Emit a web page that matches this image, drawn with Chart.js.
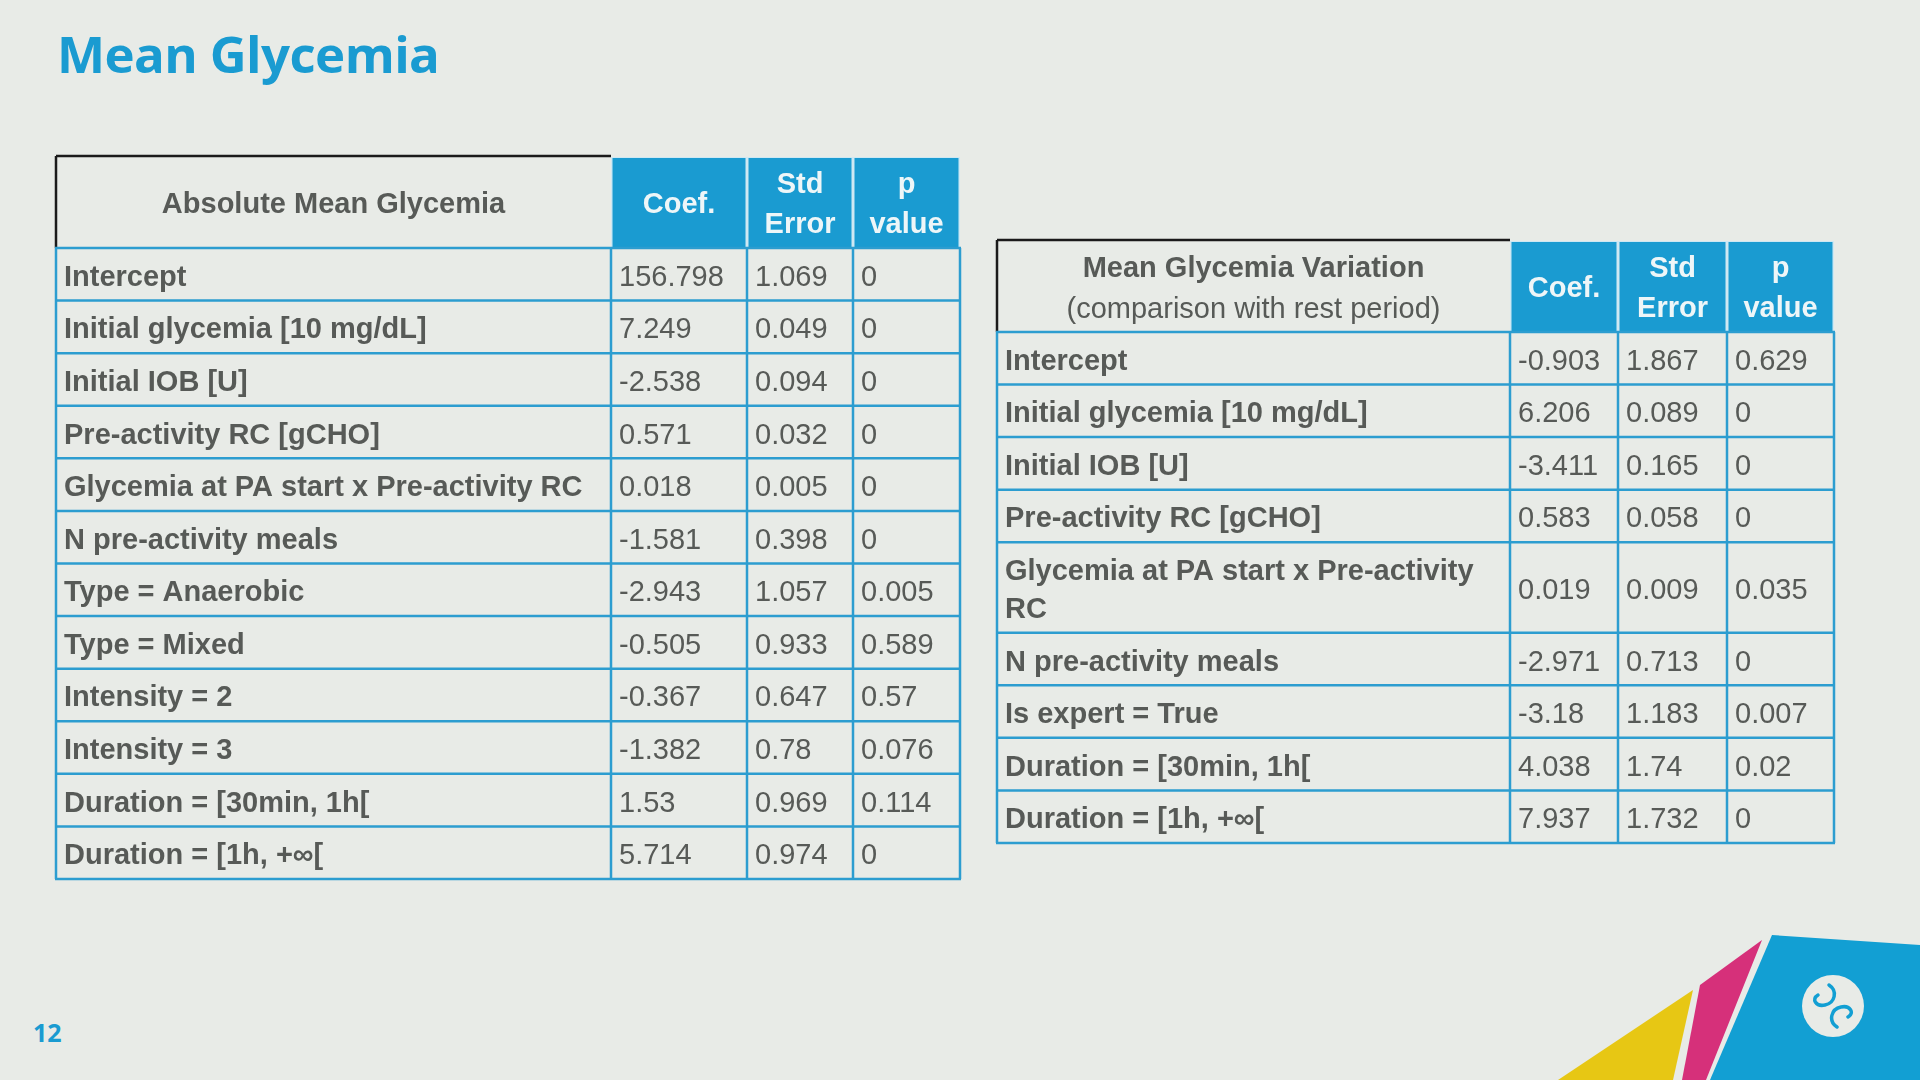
<!DOCTYPE html>
<html>
<head>
<meta charset="utf-8">
<title>Mean Glycemia</title>
<script src="https://cdn.jsdelivr.net/npm/chart.js@4.4.0/dist/chart.umd.min.js"></script>
<style>
  html, body { margin: 0; padding: 0; }
  body {
    width: 1920px; height: 1080px; position: relative; overflow: hidden;
    background: #e8ebe7; font-family: "Liberation Sans", Arial, sans-serif;
  }
  h1 {
    position: absolute; left: 57px; top: 18px; margin: 0;
    font-family: "Open Sans", sans-serif; font-weight: 700; font-size: 51px;
    color: #1a9bd1; letter-spacing: -0.6px;
  }
  .page-num {
    position: absolute; left: 33px; top: 1015px;
    font-family: "Open Sans", sans-serif; font-weight: 700; font-size: 25px; color: #1a9bd1;
  }
  canvas { position: absolute; }
  svg.deco { position: absolute; left: 0; top: 0; }
</style>
</head>
<body>
<h1>Mean Glycemia</h1>
<canvas id="absChart"></canvas>
<canvas id="varChart"></canvas>
<div class="page-num">12</div>

<svg class="deco" width="1920" height="1080">
  <polygon points="1693,990 1673,1080 1558,1080" fill="#e7c714"/>
  <polygon points="1700,985 1762,940 1706,1080 1682,1080" fill="#d6307a"/>
  <polygon points="1772,935 1920,945 1920,1080 1710,1080" fill="#129fd3"/>
  <circle cx="1833" cy="1006" r="31" fill="#e8ebe7"/>
  <path d="M1829,985 C1838,991 1835,1003 1825,1005 C1816,1007 1811,999 1818,995"
        fill="none" stroke="#129fd3" stroke-width="3.5" stroke-linecap="round"/>
  <path d="M1837,1027 C1828,1021 1831,1009 1841,1007 C1850,1005 1855,1013 1848,1017"
        fill="none" stroke="#129fd3" stroke-width="3.5" stroke-linecap="round"/>
</svg>

<script>
// column headers shared by both tables
const colHeaders = [["Coef."], ["Std", "Error"], ["p", "value"]];

// Absolute Mean Glycemia
const absTitle = ["Absolute Mean Glycemia"];
const absTerms = [
  "Intercept",
  "Initial glycemia [10 mg/dL]",
  "Initial IOB [U]",
  "Pre-activity RC [gCHO]",
  "Glycemia at PA start x Pre-activity RC",
  "N pre-activity meals",
  "Type = Anaerobic",
  "Type = Mixed",
  "Intensity = 2",
  "Intensity = 3",
  "Duration = [30min, 1h[",
  "Duration = [1h, +\u221e["
];
const absCoef   = [156.798, 7.249, -2.538, 0.571, 0.018, -1.581, -2.943, -0.505, -0.367, -1.382, 1.53, 5.714];
const absStdErr = [1.069, 0.049, 0.094, 0.032, 0.005, 0.398, 1.057, 0.933, 0.647, 0.78, 0.969, 0.974];
const absPValue = [0, 0, 0, 0, 0, 0, 0.005, 0.589, 0.57, 0.076, 0.114, 0];

// Mean Glycemia Variation
const varTitle = ["Mean Glycemia Variation", "(comparison with rest period)"];
const varTerms = [
  "Intercept",
  "Initial glycemia [10 mg/dL]",
  "Initial IOB [U]",
  "Pre-activity RC [gCHO]",
  "Glycemia at PA start x Pre-activity RC",
  "N pre-activity meals",
  "Is expert = True",
  "Duration = [30min, 1h[",
  "Duration = [1h, +\u221e["
];
const varCoef   = [-0.903, 6.206, -3.411, 0.583, 0.019, -2.971, -3.18, 4.038, 7.937];
const varStdErr = [1.867, 0.089, 0.165, 0.058, 0.009, 0.713, 1.183, 1.74, 1.732];
const varPValue = [0.629, 0, 0, 0, 0.035, 0, 0.007, 0.02, 0];

// layout / style
const FONT = '"Liberation Sans", Arial, sans-serif';
const BLUE = '#1a9bd1';
const LINE_BLUE = '#2c9dd0';
const TEXT_GRAY = '#575a57';
const HEADER_H = 92;
const ROW_H = 52.6;
const WRAP_LINE_H = 38;
const TEXT_SHIFT = 3.5; // middle baseline sits a bit high
const PAD = 6;

function wrapText(ctx, text, maxW) {
  const words = text.split(' ');
  const lines = [];
  let cur = '';
  words.forEach(w => {
    const test = cur ? cur + ' ' + w : w;
    if (cur && ctx.measureText(test).width > maxW) {
      lines.push(cur);
      cur = w;
    } else {
      cur = test;
    }
  });
  lines.push(cur);
  return lines;
}

function makeTablePlugin(table) {
  return {
    id: 'regressionTable',
    afterDraw(chart) {
      const ctx = chart.ctx;
      const X = v => chart.scales.x.getPixelForValue(v);
      const Y = v => chart.scales.y.getPixelForValue(v);
      const e = table.colEdges;
      const cellPad = 8;

      // row heights (label column wraps)
      ctx.font = 'bold 29px ' + FONT;
      const labelLines = table.terms.map(t => wrapText(ctx, t, e[1] - e[0] - 2 * cellPad));
      const rowTops = [HEADER_H];
      labelLines.forEach(l => rowTops.push(rowTops[rowTops.length - 1] + ROW_H + (l.length - 1) * WRAP_LINE_H));
      const bottom = rowTops[rowTops.length - 1];

      ctx.save();
      // blue header cells
      ctx.fillStyle = '#cfe8f3';
      ctx.fillRect(X(e[1]), Y(1), X(e[4]) - X(e[1]), Y(HEADER_H) - Y(1));
      ctx.fillStyle = BLUE;
      for (let c = 1; c < 4; c++) {
        ctx.fillRect(X(e[c]) + 1.5, Y(2), X(e[c + 1]) - X(e[c]) - 3, Y(HEADER_H) - Y(2));
      }
      ctx.fillStyle = '#eef6f8';
      ctx.font = 'bold 29px ' + FONT;
      ctx.textAlign = 'center';
      ctx.textBaseline = 'middle';
      colHeaders.forEach((lines, i) => {
        const cx = (X(e[i + 1]) + X(e[i + 2])) / 2;
        lines.forEach((s, k) => {
          const cy = Y(HEADER_H / 2 + (k - (lines.length - 1) / 2) * 40 + TEXT_SHIFT);
          ctx.fillText(s, cx, cy);
        });
      });

      // title cell (black top and left border)
      ctx.strokeStyle = '#1a1a1a';
      ctx.lineWidth = 2.5;
      ctx.beginPath();
      ctx.moveTo(X(e[0]), Y(0));
      ctx.lineTo(X(e[1]), Y(0));
      ctx.moveTo(X(e[0]), Y(0));
      ctx.lineTo(X(e[0]), Y(HEADER_H));
      ctx.stroke();
      ctx.fillStyle = TEXT_GRAY;
      table.title.forEach((s, k) => {
        ctx.font = (k === 0 ? 'bold ' : '') + '29px ' + FONT;
        const cy = Y(HEADER_H / 2 + (k - (table.title.length - 1) / 2) * 41 + TEXT_SHIFT);
        ctx.fillText(s, (X(e[0]) + X(e[1])) / 2, cy);
      });

      // body grid
      ctx.strokeStyle = LINE_BLUE;
      ctx.lineWidth = 2.5;
      ctx.beginPath();
      rowTops.forEach(r => {
        ctx.moveTo(X(e[0]) - 1, Y(r));
        ctx.lineTo(X(e[4]) + 1, Y(r));
      });
      e.forEach(c => {
        ctx.moveTo(X(c), Y(HEADER_H));
        ctx.lineTo(X(c), Y(bottom));
      });
      ctx.stroke();

      // body text
      ctx.textAlign = 'left';
      ctx.fillStyle = TEXT_GRAY;
      table.terms.forEach((t, r) => {
        const mid = (rowTops[r] + rowTops[r + 1]) / 2 + TEXT_SHIFT;
        const lines = labelLines[r];
        ctx.font = 'bold 29px ' + FONT;
        lines.forEach((s, k) => {
          ctx.fillText(s, X(e[0]) + cellPad, Y(mid + (k - (lines.length - 1) / 2) * WRAP_LINE_H));
        });
        ctx.font = '29px ' + FONT;
        table.columns.forEach((col, c) => {
          ctx.fillText(String(col[r]), X(e[c + 1]) + cellPad, Y(mid));
        });
      });
      ctx.restore();
    }
  };
}

function drawTable(id, table, originX, originY, height) {
  const el = document.getElementById(id);
  const w = table.colEdges[table.colEdges.length - 1];
  el.width = w + 2 * PAD;
  el.height = height + 2 * PAD;
  el.style.left = (originX - PAD) + 'px';
  el.style.top = (originY - PAD) + 'px';
  new Chart(el, {
    type: 'scatter',
    data: { datasets: [] },
    options: {
      responsive: false,
      animation: false,
      devicePixelRatio: 1,
      layout: { padding: 0 },
      plugins: { legend: { display: false }, tooltip: { enabled: false } },
      scales: {
        x: { type: 'linear', display: false, min: -PAD, max: w + PAD },
        y: { type: 'linear', display: false, reverse: true, min: -PAD, max: height + PAD }
      }
    },
    plugins: [makeTablePlugin(table)]
  });
}

drawTable('absChart', {
  title: absTitle,
  terms: absTerms,
  columns: [absCoef, absStdErr, absPValue],
  colEdges: [0, 555, 691, 797, 904]
}, 56, 156, HEADER_H + 12 * ROW_H);

drawTable('varChart', {
  title: varTitle,
  terms: varTerms,
  columns: [varCoef, varStdErr, varPValue],
  colEdges: [0, 513, 621, 730, 837]
}, 997, 240, HEADER_H + 8 * ROW_H + ROW_H + WRAP_LINE_H);
</script>
</body>
</html>
